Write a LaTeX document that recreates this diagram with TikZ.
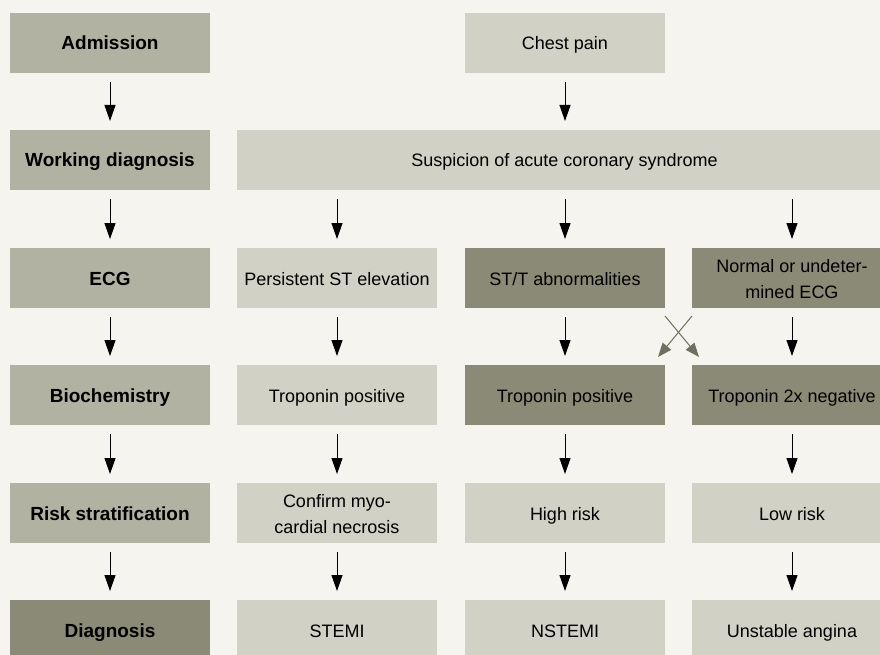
\documentclass[tikz,border=0pt]{standalone}
\usepackage{fontspec}
\setmainfont{Liberation Sans}
\usetikzlibrary{arrows.meta,calc}
\definecolor{bgc}{HTML}{F5F4EE}
\definecolor{labc}{HTML}{B2B2A3}
\definecolor{darkc}{HTML}{8A8A77}
\definecolor{lightc}{HTML}{D1D1C5}
\definecolor{grayarr}{HTML}{6E7060}
\begin{document}
\begin{tikzpicture}[x=1pt,y=-1pt,
  box/.style={minimum width=200pt,minimum height=60pt,inner sep=0pt,outer sep=0pt,align=center,text height=14pt,text depth=0pt,font=\fontsize{18}{26}\selectfont,text=black},
  twoline/.style={text height=40pt,text depth=0pt},
  lab/.style={box,fill=labc,font=\fontsize{19}{26}\selectfont\bfseries},
  labdark/.style={box,fill=darkc,font=\fontsize{19}{26}\selectfont\bfseries},
  lightbox/.style={box,fill=lightc},
  darkbox/.style={box,fill=darkc},
  arr/.style={-{Triangle[length=16pt,width=11pt]},line width=1pt,black,shorten <=9pt,shorten >=9pt},
  garr/.style={-{Triangle[length=14pt,width=11pt]},line width=1pt,grayarr}]
\useasboundingbox[fill=bgc] (0,0) rectangle (880,655);
\clip (0,0) rectangle (880,655);
% left labels
\node[lab] (l1) at (110,43) {Admission};
\node[lab] (l2) at (110,160) {Working diagnosis};
\node[lab] (l3) at (110,278) {ECG};
\node[lab] (l4) at (110,395) {Biochemistry};
\node[lab] (l5) at (110,513) {Risk stratification};
\node[labdark] (l6) at (110,630) {Diagnosis};
% content
\node[lightbox] (cp) at (565,43) {Chest pain};
\node[lightbox,minimum width=655pt] (sus) at (564.5,160) {Suspicion of acute coronary syndrome};
\node[lightbox] (ste) at (337,278) {Persistent ST elevation};
\node[darkbox] (stt) at (565,278) {ST/T abnormalities};
\node[darkbox,twoline] (nor) at (792,278) {Normal or undeter-\\mined ECG};
\node[lightbox] (tp1) at (337,395) {Troponin positive};
\node[darkbox] (tp2) at (565,395) {Troponin positive};
\node[darkbox] (tn) at (792,395) {Troponin 2x negative};
\node[lightbox,twoline] (cm) at (337,513) {Confirm myo-\\cardial necrosis};
\node[lightbox] (hr) at (565,513) {High risk};
\node[lightbox] (lr) at (792,513) {Low risk};
\node[lightbox] (d1) at (337,630) {STEMI};
\node[lightbox] (d2) at (565,630) {NSTEMI};
\node[lightbox] (d3) at (792,630) {Unstable angina};
% arrows left
\draw[arr] (l1.south) -- (l2.north);
\draw[arr] (l2.south) -- (l3.north);
\draw[arr] (l3.south) -- (l4.north);
\draw[arr] (l4.south) -- (l5.north);
\draw[arr] (l5.south) -- (l6.north);
% arrows content
\draw[arr] (cp.south) -- (cp.south |- sus.north);
\draw[arr] (sus.south -| ste.north) -- (ste.north);
\draw[arr] (sus.south -| stt.north) -- (stt.north);
\draw[arr] (sus.south -| nor.north) -- (nor.north);
\draw[arr] (ste.south) -- (tp1.north);
\draw[arr] (stt.south) -- (tp2.north);
\draw[arr] (nor.south) -- (tn.north);
\draw[arr] (tp1.south) -- (cm.north);
\draw[arr] (tp2.south) -- (hr.north);
\draw[arr] (tn.south) -- (lr.north);
\draw[arr] (cm.south) -- (d1.north);
\draw[arr] (hr.south) -- (d2.north);
\draw[arr] (lr.south) -- (d3.north);
% cross arrows
\coordinate (xa) at ($(stt.south east)+(0,8)$);
\coordinate (xb) at ($(tn.north west)+(7,-8)$);
\coordinate (xc) at ($(nor.south west)+(0,8)$);
\coordinate (xd) at ($(tp2.north east)+(-7,-8)$);
\draw[garr] (xa) -- (xb);
\draw[garr] (xc) -- (xd);
\end{tikzpicture}
\end{document}
